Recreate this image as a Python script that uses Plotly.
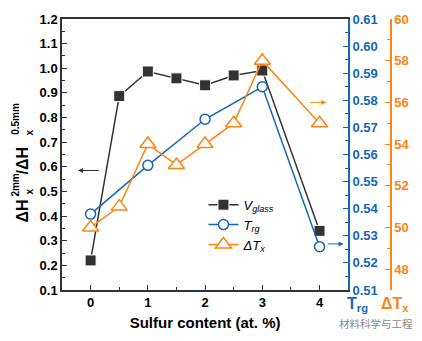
import plotly.graph_objects as go

# Data
x_v = [0, 0.5, 1, 1.5, 2, 2.5, 3, 4]
v_glass = [0.22, 0.887, 0.987, 0.959, 0.931, 0.971, 0.991, 0.34]
x_t = [0, 1, 2, 3, 4]
t_rg = [0.538, 0.556, 0.573, 0.585, 0.526]
x_d = [0, 0.5, 1, 1.5, 2, 2.5, 3, 4]
delta_tx = [50.0, 51.0, 54.0, 53.0, 54.0, 55.0, 58.0, 55.0]

BLACK = "#333333"
BLUE = "#1565b8"
ORANGE = "#ff8412"
FONT = "Liberation Sans"

fig = go.Figure()
fig.add_trace(go.Scatter(
    x=x_v, y=v_glass, mode="lines+markers", name="<i>V</i><sub><i>glass</i></sub>",
    line=dict(color=BLACK, width=1.5),
    marker=dict(symbol="square", size=11, color=BLACK, line=dict(color="white", width=1)),
    yaxis="y"))
fig.add_trace(go.Scatter(
    x=x_t, y=t_rg, mode="lines+markers", name="<i>T</i><sub><i>rg</i></sub>",
    line=dict(color=BLUE, width=1.5),
    marker=dict(symbol="circle", size=10, color="white", line=dict(color=BLUE, width=1.5)),
    yaxis="y2"))
fig.add_trace(go.Scatter(
    x=x_d, y=delta_tx, mode="lines+markers", name="<i>ΔT</i><sub><i>x</i></sub>",
    line=dict(color=ORANGE, width=1.5),
    marker=dict(symbol="triangle-up", size=14, color="white", line=dict(color=ORANGE, width=1.5)),
    yaxis="y3"))

L, R, T, B, W, H = 62, 30, 15, 50, 422, 341
PW, PH = W - L - R, H - T - B
dom_end = 287 / PW


def px(xp):
    return (xp - L) / PW


def py(yp):
    return (H - B - yp) / PH


fig.update_layout(
    width=W, height=H,
    margin=dict(l=L, r=R, t=T, b=B),
    paper_bgcolor="white", plot_bgcolor="white",
    font=dict(family=FONT, size=13, color="black"),
    showlegend=True,
    legend=dict(x=0.43, y=0.37, xanchor="left", yanchor="top",
                bgcolor="rgba(0,0,0,0)", font=dict(size=13, color="black"),
                itemwidth=30, tracegroupgap=0),
    xaxis=dict(domain=[0, dom_end], range=[-0.5, 4.5], dtick=1, tick0=0,
               showline=True, linecolor=BLACK, linewidth=1.5, mirror=True,
               ticks="inside", ticklen=5, tickcolor=BLACK, showgrid=False, zeroline=False,
               minor=dict(ticks="inside", dtick=0.5, tick0=0, ticklen=3, tickcolor=BLACK),
               tickfont=dict(family=FONT, size=13, color="black", weight="bold"),
               title=dict(text="<b>Sulfur content (at. %)</b>", font=dict(size=15), standoff=8)),
    yaxis=dict(range=[0.1, 1.2], dtick=0.1, tick0=0.1, tickformat=".1f",
               showline=True, linecolor=BLACK, linewidth=1.5,
               ticks="inside", ticklen=5, tickcolor=BLACK, showgrid=False, zeroline=False,
               minor=dict(ticks="inside", dtick=0.05, ticklen=3, tickcolor=BLACK),
               tickfont=dict(family=FONT, size=13, color="black", weight="bold")),
    yaxis2=dict(range=[0.51, 0.61], dtick=0.01, tick0=0.51, tickformat=".2f",
                overlaying="y", side="right", anchor="x",
                showline=True, linecolor=BLUE, linewidth=1.5,
                ticks="inside", ticklen=5, tickcolor=BLUE, showgrid=False, zeroline=False,
                minor=dict(ticks="inside", dtick=0.005, ticklen=3, tickcolor=BLUE),
                tickfont=dict(family=FONT, size=13, color=BLUE, weight="bold")),
    yaxis3=dict(range=[47, 60], dtick=2, tick0=48,
                overlaying="y", side="right", anchor="free", position=1,
                showline=True, linecolor=ORANGE, linewidth=1.5,
                ticks="inside", ticklen=5, tickcolor=ORANGE, showgrid=False, zeroline=False,
                minor=dict(ticks="inside", dtick=1, ticklen=3, tickcolor=ORANGE),
                tickfont=dict(family=FONT, size=13, color=ORANGE, weight="bold")),
)

# Left axis title built from pieces (stacked sub/superscripts)
title_pieces = [
    ("<b>ΔH</b>", 22, 211, 16),
    ("<b>x</b>", 29.5, 191, 10),
    ("<b>2mm</b>", 15.5, 184, 10),
    ("<b>/ΔH</b>", 22, 159, 16),
    ("<b>x</b>", 29.5, 131, 10),
    ("<b>0.5mm</b>", 15.5, 117, 10),
]
for txt, xx, yy, fs in title_pieces:
    fig.add_annotation(text=txt, xref="paper", yref="paper", x=px(xx), y=py(yy),
                       textangle=-90, showarrow=False, xanchor="center", yanchor="middle",
                       font=dict(family=FONT, size=fs, color="black"))

# Right-side axis labels
fig.add_annotation(text="<b>T<sub>rg</sub></b>", xref="paper", yref="paper",
                   x=px(358), y=py(294), showarrow=False,
                   font=dict(size=16, color=BLUE), xanchor="center", yanchor="top")
fig.add_annotation(text="<b>ΔT<sub>x</sub></b>", xref="paper", yref="paper",
                   x=px(396), y=py(294), showarrow=False,
                   font=dict(size=16, color=ORANGE), xanchor="center", yanchor="top")
# Watermark
fig.add_annotation(text="材料科学与工程", xref="paper", yref="paper",
                   x=px(377), y=py(325), showarrow=False,
                   font=dict(family="Noto Sans CJK SC", size=10.5, color="#8a8a8a"),
                   xanchor="center", yanchor="middle")

# Axis indicator arrows
fig.add_annotation(x=-0.22, y=0.585, ax=0.17, ay=0.585, xref="x", yref="y", axref="x", ayref="y",
                   showarrow=True, arrowhead=2, arrowsize=1, arrowwidth=1, arrowcolor=BLACK, text="")
fig.add_annotation(x=4.42, y=0.527, ax=4.12, ay=0.527, xref="x", yref="y2", axref="x", ayref="y2",
                   showarrow=True, arrowhead=2, arrowsize=1, arrowwidth=1, arrowcolor=BLUE, text="")
fig.add_annotation(x=4.12, y=56, ax=3.81, ay=56, xref="x", yref="y3", axref="x", ayref="y3",
                   showarrow=True, arrowhead=2, arrowsize=1, arrowwidth=1, arrowcolor=ORANGE, text="")

fig.write_html("out.html")
